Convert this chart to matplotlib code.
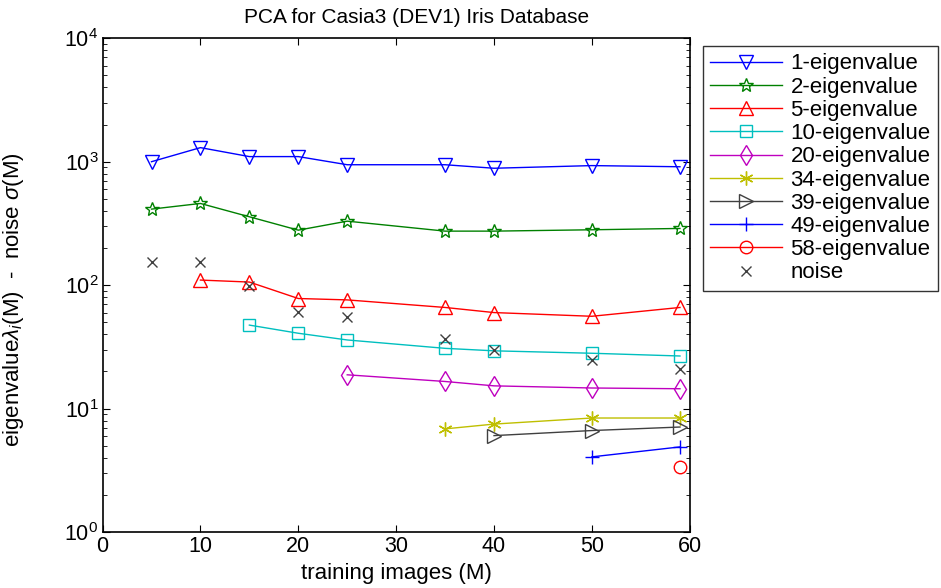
import matplotlib
matplotlib.use("Agg")
import matplotlib.pyplot as plt
from matplotlib.ticker import LogLocator, NullFormatter

plt.rcParams['font.family'] = ['Liberation Sans', 'DejaVu Sans']
plt.rcParams['mathtext.fontset'] = 'custom'
plt.rcParams['mathtext.rm'] = 'Liberation Sans'
plt.rcParams['mathtext.it'] = 'Liberation Sans:italic'

# training images M for each series
m_all = [5, 10, 15, 20, 25, 35, 40, 50, 59]
eig1 = [1000, 1300, 1100, 1100, 945, 945, 885, 930, 910]
eig2 = [413, 459, 358, 279, 330, 274, 274, 281, 288]
m_5 = [10, 15, 20, 25, 35, 40, 50, 59]
eig5 = [110, 106, 78, 76, 66, 60, 56, 66]
m_10 = [15, 20, 25, 35, 40, 50, 59]
eig10 = [47.5, 40.8, 36, 30.8, 29.4, 28.1, 26.7]
m_20 = [25, 35, 40, 50, 59]
eig20 = [18.8, 16.6, 15.3, 14.7, 14.5]
m_34 = [35, 40, 50, 59]
eig34 = [6.86, 7.5, 8.4, 8.4]
m_39 = [40, 50, 59]
eig39 = [6.05, 6.65, 7.1]
m_49 = [50, 59]
eig49 = [4.07, 4.9]
m_58 = [59]
eig58 = [3.37]
noise = [153, 153, 98, 61, 55, 36.5, 30, 25, 21]

fig = plt.figure(figsize=(9.41, 5.88), dpi=100)
ax = fig.add_axes([0.109, 0.095, 0.624, 0.840])

mk = dict(fillstyle='none', markeredgewidth=1.0, linewidth=1.0)
ax.semilogy(m_all, eig1, color=(0, 0, 1), marker='v', markersize=10, label='1-eigenvalue', **mk)
ax.semilogy(m_all, eig2, color=(0, 0.5, 0), marker='*', markersize=10, label='2-eigenvalue', **mk)
ax.semilogy(m_5, eig5, color=(1, 0, 0), marker='^', markersize=10, label='5-eigenvalue', **mk)
ax.semilogy(m_10, eig10, color=(0, 0.75, 0.75), marker='s', markersize=9, label='10-eigenvalue', **mk)
ax.semilogy(m_20, eig20, color=(0.75, 0, 0.75), marker='d', markersize=10, label='20-eigenvalue', **mk)
ax.semilogy(m_34, eig34, color=(0.75, 0.75, 0), marker=(6, 2, 0), markersize=10, label='34-eigenvalue', **mk)
ax.semilogy(m_39, eig39, color=(0.25, 0.25, 0.25), marker='>', markersize=10, label='39-eigenvalue', **mk)
ax.semilogy(m_49, eig49, color=(0, 0, 1), marker='+', markersize=10, label='49-eigenvalue', **mk)
ax.semilogy(m_58, eig58, color=(1, 0, 0), marker='o', markersize=9, label='58-eigenvalue', **mk)
ax.semilogy(m_all, noise, color=(0.25, 0.25, 0.25), marker='x', markersize=7, linestyle='none',
            label='noise', markeredgewidth=1.0)

ax.set_xlim(0, 60)
ax.set_ylim(1, 1e4)
ax.set_xticks(range(0, 61, 10))
ax.yaxis.set_major_locator(LogLocator(base=10, numticks=10))
ax.yaxis.set_minor_locator(LogLocator(base=10, subs=range(2, 10), numticks=50))
ax.yaxis.set_minor_formatter(NullFormatter())
ax.tick_params(which='both', direction='in', top=True, right=True, labelsize=15.5)
ax.tick_params(which='major', length=5, pad=3)
ax.tick_params(which='minor', length=3)
for s in ax.spines.values():
    s.set_linewidth(1.2)

ttl = ax.set_title('PCA for Casia3 (DEV1) Iris Database', fontsize=15, pad=11)
ttl.set_x(0.534)
ax.set_xlabel('training images (M)', fontsize=16)
ax.xaxis.set_label_coords(0.5, -0.063)
ax.set_ylabel(r'eigenvalue$\lambda_i$(M)  -  noise $\sigma$(M)', fontsize=16)
ax.yaxis.set_label_coords(-0.131, 0.47)

leg = ax.legend(loc='upper left', bbox_to_anchor=(1.022, 0.985), fontsize=16,
                frameon=True, fancybox=False, edgecolor='black', handlelength=3.2,
                labelspacing=0.1, borderpad=0.35, handletextpad=0.4, borderaxespad=0)
leg.get_frame().set_linewidth(1.0)

fig.savefig('out.png', dpi=100)
